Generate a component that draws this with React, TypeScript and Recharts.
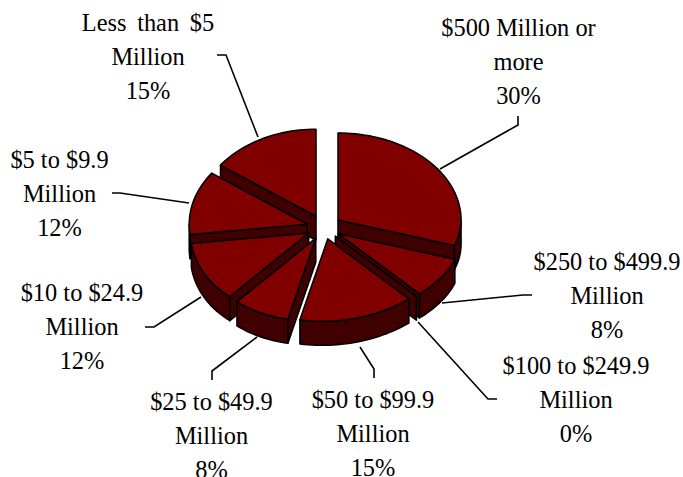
import React from "react";
import { PieChart, Pie } from "recharts";

// ---- data ----
const categories = [
  "$500 Million or more",
  "$250 to $499.9 Million",
  "$100 to $249.9 Million",
  "$50 to $99.9 Million",
  "$25 to $49.9 Million",
  "$10 to $24.9 Million",
  "$5 to $9.9 Million",
  "Less than $5 Million",
];
const shares = [30, 8, 0, 15, 8, 12, 12, 15];
const labelRows = [
  ["$500 Million or", "more"],
  ["$250 to $499.9", "Million"],
  ["$100 to $249.9", "Million"],
  ["$50 to $99.9", "Million"],
  ["$25 to $49.9", "Million"],
  ["$10 to $24.9", "Million"],
  ["$5 to $9.9", "Million"],
  ["Less than $5", "Million"],
];
const tableData = categories.map((name, i) => ({ name, value: shares[i] }));

// ---- layout & style ----
const WIDTH = 683;
const HEIGHT = 477;
const FILL_TOP = "#800000";
const FILL_SIDE = "#400000";
const LINE = "#000000";
const RX_RIGHT = 123;
const RX_LEFT = 118;
const RY_BACK = 87;
const RY_FRONT = 82.5;
const FRONT_SKEW = 6;
const EXPLODE = 0.144;
const DEPTH = 24;
const FONT = 24.4;
const ROW = 33.8;

// painter's order: far slices first
const paintOrder = [0, 7, 6, 1, 2, 5, 4, 3];

// label block centre x, first baseline y, leader polyline, extra word gap
const labelLayout = [
  { x: 518.5, y: 36, gap: 0, leader: "518,116 518,125 440,169" },
  { x: 607, y: 270, gap: 0, leader: "532,295 523,295 442,303" },
  { x: 576, y: 374, gap: 0, leader: "497,399 488,399 418,322" },
  { x: 373, y: 408, gap: 0, leader: "374,378 374,369 360,347" },
  { x: 211.5, y: 410, gap: 0, leader: "212,380 212,371 257,337" },
  { x: 82, y: 301, gap: 0, leader: "145,327 154,327 201,297" },
  { x: 59.5, y: 168, gap: 0, leader: "112,193 120,193 189,203" },
  { x: 148, y: 31, gap: 4.5, leader: "217,55 226,55 258,137" },
];

const rad = (d: number) => (d * Math.PI) / 180;

function project(theta: number, r: number): [number, number] {
  const c = Math.cos(rad(theta));
  const u = r * Math.sin(rad(theta));
  const v = r * c;
  const skew = c < 0 ? FRONT_SKEW * r * c * c : 0;
  return [u * (u >= 0 ? RX_RIGHT : RX_LEFT) - skew, -v * (v >= 0 ? RY_BACK : RY_FRONT)];
}

function toPath(points: [number, number][]) {
  return "M" + points.map((p) => `${p[0].toFixed(2)},${p[1].toFixed(2)}`).join("L") + "Z";
}

function Slice3D(props: any) {
  const { cx, cy, startAngle, endAngle } = props;
  const t0 = 90 - startAngle;
  const t1 = 90 - endAngle;
  const mid = (t0 + t1) / 2;
  const [ox, oy] = project(mid, EXPLODE);
  const ax = cx + ox;
  const ay = cy + oy;
  const at = (theta: number, drop = 0): [number, number] => {
    const [x, y] = project(theta, 1);
    return [ax + x, ay + y + drop];
  };
  const arc = (a: number, b: number, drop = 0) => {
    const pts: [number, number][] = [];
    const n = Math.max(1, Math.ceil((b - a) / 2));
    for (let i = 0; i <= n; i++) pts.push(at(a + ((b - a) * i) / n, drop));
    return pts;
  };
  const apex: [number, number] = [ax, ay];
  const apexLow: [number, number] = [ax, ay + DEPTH];
  const common = { stroke: LINE, strokeWidth: 1.6, strokeLinejoin: "round" as const };
  const parts: React.ReactNode[] = [];

  const s = (d: number) => ((d % 360) + 360) % 360;
  if (Math.sin(rad(t1)) > 0) {
    parts.push(<path key="endWall" d={toPath([apex, at(t1), at(t1, DEPTH), apexLow])} fill={FILL_SIDE} {...common} />);
  }
  if (Math.sin(rad(t0)) < 0) {
    parts.push(<path key="startWall" d={toPath([apex, at(t0), at(t0, DEPTH), apexLow])} fill={FILL_SIDE} {...common} />);
  }
  const w0 = Math.max(s(t0), 90);
  const w1 = Math.min(t1 === 360 ? 360 : s(t1), 270);
  if (w1 > w0) {
    const top = arc(w0, w1);
    const low = arc(w0, w1, DEPTH).reverse();
    parts.push(<path key="rimWall" d={toPath([...top, ...low])} fill={FILL_SIDE} {...common} />);
  }
  if (t1 > t0) {
    parts.push(<path key="top" d={toPath([apex, ...arc(t0, t1)])} fill={FILL_TOP} {...common} />);
  }
  return <g>{parts}</g>;
}

function renderLabel(props: any) {
  const i = props.index as number;
  const l = labelLayout[i];
  const rows = [...labelRows[i], `${shares[i]}%`];
  return (
    <g key={categories[i]}>
      <polyline points={l.leader} fill="none" stroke={LINE} strokeWidth={1.6} />
      {rows.map((row, k) => (
        <text
          key={k}
          x={l.x}
          y={l.y + k * ROW}
          textAnchor="middle"
          fontFamily="'Liberation Serif', serif"
          fontSize={FONT}
          wordSpacing={l.gap}
          fill="#000"
        >
          {row}
        </text>
      ))}
    </g>
  );
}

export default function App() {
  return (
    <div style={{ position: "absolute", left: 0, top: 0, width: WIDTH, height: HEIGHT, overflow: "hidden", background: "#fff" }}>
      <PieChart width={WIDTH} height={HEIGHT} margin={{ top: 0, right: 0, bottom: 0, left: 0 }}>
        {paintOrder.map((idx, layer) => (
          <Pie
            key={idx}
            data={tableData}
            dataKey="value"
            nameKey="name"
            cx={323.7}
            cy={227.4}
            outerRadius={RX_RIGHT}
            innerRadius={0}
            startAngle={90}
            endAngle={-270}
            stroke="none"
            isAnimationActive={false}
            labelLine={false}
            label={layer === paintOrder.length - 1 ? renderLabel : false}
            shape={(p: any) => (p.index === idx ? <Slice3D {...p} /> : <g />)}
          />
        ))}
      </PieChart>
    </div>
  );
}
